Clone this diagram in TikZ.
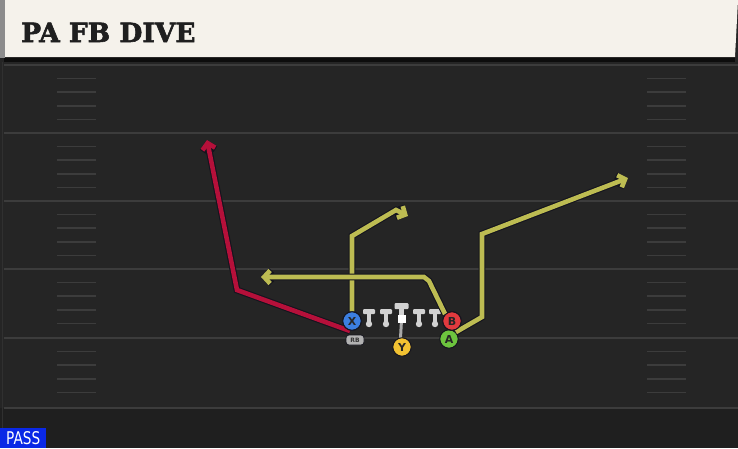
\documentclass[tikz,border=0pt]{standalone}
\usepackage{fontspec}
\usetikzlibrary{arrows.meta,positioning}
\newfontfamily\headfont{DejaVu Serif}[BoldFeatures={FakeBold=2.2}]
\newfontfamily\tagfont{DejaVu Sans}
\definecolor{field}{HTML}{252525}
\definecolor{fieldlow}{HTML}{1F1F1F}
\definecolor{yardgray}{HTML}{3C3C3C}
\definecolor{cream}{HTML}{F5F2EB}
\definecolor{outl}{HTML}{14141E}
\definecolor{routeY}{HTML}{BDBC52}
\definecolor{routeR}{HTML}{B5103A}
\definecolor{xblue}{HTML}{3C7FE0}
\definecolor{bred}{HTML}{E23A3E}
\definecolor{agreen}{HTML}{6DC43E}
\definecolor{yyellow}{HTML}{F2C232}
\definecolor{lgray}{HTML}{D2D2D2}
\definecolor{passblue}{HTML}{0A28E6}

\tikzset{
lman/.pic={
  \fill[lgray, rounded corners=1pt] (-6,-8) rectangle (6,-3);
  \draw[lgray, line width=4.6pt] (0,-4) -- (0,7);
  \fill[lgray] (0,7) circle (3.2);
}
}

\begin{document}
\begin{tikzpicture}[x=1pt, y=-1pt,
player/.style={circle, draw=outl, line width=1pt, minimum size=18.5pt, inner sep=0pt, text=black!85, font=\tagfont\bfseries\fontsize{11}{11}\selectfont},
route/.style={draw=routeY, line width=4.6pt, -{Straight Barb[length=6pt, width=13pt]}, preaction={draw=outl, line width=6.8pt}},
yard/.style={draw=yardgray, line width=1.8pt},
hash/.style={draw=yardgray, line width=1.5pt}
]
\useasboundingbox (0,0) rectangle (738,448);
%Field
\fill[field] (0,0) rectangle (738,448);
\fill[fieldlow] (0,408) rectangle (738,448);
\draw[yardgray!80!black, line width=1pt] (2,62) -- (2,448);
\foreach \yy in {65,133,201,269,338,408}
  \draw[yard] (4,\yy) -- (738,\yy);
\foreach \yy in {65,133,201,269,338}
  \foreach \k in {1,2,3,4}{
    \draw[hash] (57,\yy+\k*13.6) -- (96,\yy+\k*13.6);
    \draw[hash] (647,\yy+\k*13.6) -- (686,\yy+\k*13.6);
  }
%Header
\fill[black!95] (4,57) rectangle (735,62);
\fill[black!45] (0,0) rectangle (5,58);
\fill[cream] (5,0) -- (738,0) -- (735,57) -- (5,57) -- cycle;
\node[anchor=base west, inner sep=0pt, text=black!88, font=\headfont\bfseries\fontsize{26.5}{26.5}\selectfont] (title) at (21,42) {PA FB DIVE};
%Pass tag
\node[fill=passblue, text=white, inner sep=0pt, minimum width=46pt, minimum height=20pt, anchor=south west, font=\tagfont\fontsize{17.5}{17.5}\selectfont] (pass) at (0,448) {\scalebox{0.78}[1]{PASS}};
%Line
\pic at (369,317) {lman};
\pic at (386,317) {lman};
\pic at (419,317) {lman};
\pic at (435,317) {lman};
\fill[lgray, rounded corners=1pt] (394.5,303) rectangle (408.5,309);
\draw[lgray, line width=4.8pt] (401.5,306) -- (401.5,318);
\draw[lgray!80!black, line width=3pt] (401.5,320) -- (400.5,338);
\node[fill=white, inner sep=0pt, minimum size=8pt] (ball) at (401.5,318.5) {};
%Nodes
\node[player, fill=yyellow] (Y) at (402,347) {Y};
\node[player, fill=agreen]  (A) at (449,339) {A};
\node[fill=lgray!85!black, draw=outl, line width=0.7pt, rounded corners=3pt, inner sep=0pt, minimum width=18pt, minimum height=10pt, font=\tagfont\bfseries\fontsize{6}{6}\selectfont, text=black!80] (RB) at (355,340) {RB};
%Routes
\coordinate (r0) at (350,331);
\coordinate (r1) at (237,290);
\coordinate (r2) at (207,140);
\draw[route, draw=routeR] (r0) -- (r1) -- (r2);
\coordinate (x1) at (352,236);
\coordinate (x2) at (396,210);
\coordinate (x3) at (408,216);
\coordinate (b1) at (429,281);
\coordinate (b2) at (424,277);
\coordinate (b3) at (261,277);
\coordinate (a1) at (482,317);
\coordinate (a2) at (482,234);
\coordinate (a3) at (628,178);
\node[player, fill=xblue] (X) at (352,321) {X};
\node[player, fill=bred]  (B) at (452,321) {B};
\draw[route] (X.north) -- (x1) -- (x2) -- (x3);
\draw[route] (B.north west) -- (b1) -- (b2) -- (b3);
\draw[route] (A.north east) -- (a1) -- (a2) -- (a3);
\node[player, fill=xblue] at (X) {X};
\node[player, fill=bred] at (B) {B};
\end{tikzpicture}
\end{document}
